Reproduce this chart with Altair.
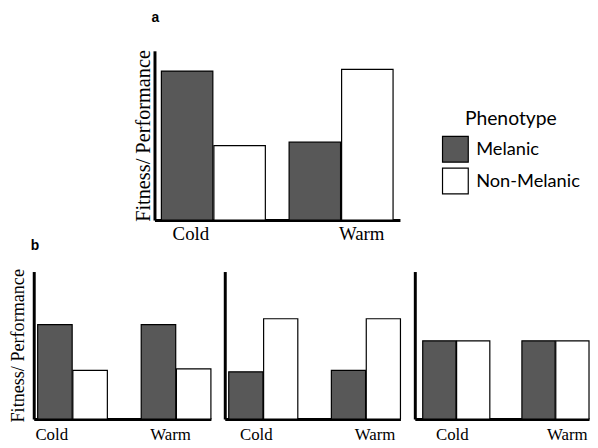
import altair as alt
import pandas as pd

temperatures = ["Cold", "Warm"]
phenotypes = ["Melanic", "Non-Melanic"]
colors = ["#585858", "#ffffff"]

# values in order: Cold/Melanic, Cold/Non-Melanic, Warm/Melanic, Warm/Non-Melanic
panel_a_values = [0.88, 0.44, 0.46, 0.89]
panel_b1_values = [0.64, 0.33, 0.64, 0.34]
panel_b2_values = [0.32, 0.68, 0.33, 0.68]
panel_b3_values = [0.53, 0.53, 0.53, 0.53]

y_title_text = "Fitness/ Performance"


def frame(values):
    rows = []
    i = 0
    for t in temperatures:
        for p in phenotypes:
            rows.append({"Temperature": t, "Phenotype": p, "Value": values[i]})
            i += 1
    return pd.DataFrame(rows)


def panel(values, width, height, pad_inner, pad_outer, align, label_size, cold_off, warm_off,
          y_title=None, title_size=18, title_pad=4, legend=None, label_pad=5):
    common = dict(grid=False, labels=False, ticks=False, domain=True,
                  domainColor="black", domainWidth=3)
    if y_title:
        y_axis = alt.Axis(title=y_title, titleFont="Liberation Serif", titleFontSize=title_size,
                          titleFontWeight="normal", titleColor="black", titlePadding=title_pad, **common)
    else:
        y_axis = alt.Axis(title=None, **common)
    x_axis = alt.Axis(
        title=None, labelAngle=0, ticks=False, domainColor="black", domainWidth=3,
        labelFont="Liberation Serif", labelFontSize=label_size, labelColor="black",
        labelPadding=label_pad,
        labelOffset={"condition": {"test": "datum.value === 'Cold'", "value": cold_off},
                     "value": warm_off},
    )
    return alt.Chart(frame(values)).mark_bar(stroke="black", strokeWidth=1.2).encode(
        x=alt.X("Temperature:N", sort=temperatures,
                scale=alt.Scale(paddingInner=pad_inner, paddingOuter=pad_outer, align=align),
                axis=x_axis),
        xOffset=alt.XOffset("Phenotype:N", sort=phenotypes,
                            scale=alt.Scale(paddingInner=0.02, paddingOuter=0)),
        y=alt.Y("Value:Q", scale=alt.Scale(domain=[0, 1], nice=False), axis=y_axis),
        color=alt.Color("Phenotype:N", sort=phenotypes,
                        scale=alt.Scale(domain=phenotypes, range=colors), legend=legend),
    ).properties(width=width, height=height)


legend_a = alt.Legend(
    title="Phenotype", orient="none", legendX=290, legendY=60,
    titleFont="Lato", titleFontSize=19.5, titleFontWeight="normal", titleColor="black",
    titleAnchor="middle", titlePadding=6,
    labelFont="Lato", labelFontSize=18.4, labelColor="black", labelOffset=7,
    symbolType="square", symbolSize=676, symbolStrokeColor="black", symbolStrokeWidth=1.2,
    symbolOpacity=1, rowPadding=0, padding=0,
)

panel_a = panel(panel_a_values, 248, 171, 0.186, 0.054, 0.5, 19, -22.7, 20.8,
                y_title=y_title_text, title_size=20.5, title_pad=1, legend=legend_a,
                label_pad=5).properties(
    title=alt.Title("a", anchor="start", frame="group", font="Liberation Sans", fontSize=14,
                    fontWeight="bold", color="black", offset=25, dx=-3)
)

spacer = alt.Chart(pd.DataFrame({"v": [0]})).mark_point(opacity=0).encode(
    x=alt.X("v:Q", axis=None), y=alt.Y("v:Q", axis=None)
).properties(width=112, height=171)

top = alt.hconcat(spacer, panel_a, spacing=10, bounds="flush").resolve_scale(
    color="independent", xOffset="independent")

b1 = panel(panel_b1_values, 179, 149, 0.327, 0.019, 1, 17, -21, -5.6,
           y_title=y_title_text, title_size=18.3, title_pad=6.5, label_pad=8)
b2 = panel(panel_b2_values, 177.5, 149, 0.327, 0.0193, 1, 17, -7, 9.3, label_pad=8)
b3 = panel(panel_b3_values, 176, 149, 0.3234, 0.0399, 1, 17, -4, 12, label_pad=8)

bottom = alt.hconcat(
    b1, b2, b3, spacing=14, bounds="flush",
    title=alt.Title("b", anchor="start", frame="group", font="Liberation Sans", fontSize=14,
                    fontWeight="bold", color="black", offset=16, dx=-3),
).resolve_scale(xOffset="independent")

chart = alt.vconcat(top, bottom, spacing=-5).resolve_scale(
    color="independent", xOffset="independent"
).configure_view(stroke=None).properties(padding=0)

chart.save("out.html", embed_options={"renderer": "svg", "actions": False})
